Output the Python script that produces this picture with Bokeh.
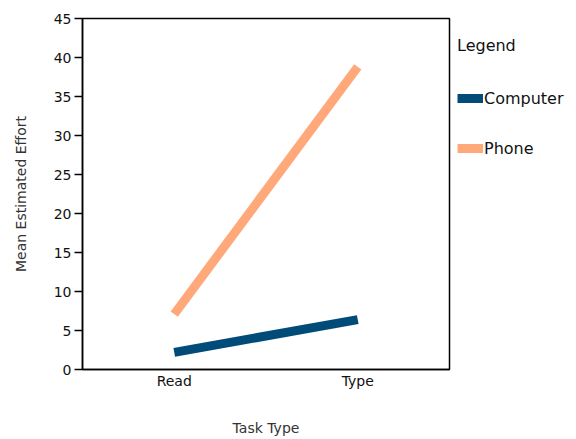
from bokeh.plotting import figure
from bokeh.models import Legend, LegendItem, FactorRange, FixedTicker
from bokeh.embed import file_html
from bokeh.resources import INLINE

tasks = ["Read", "Type"]
computer = [2.2, 6.4]
phone = [7.1, 38.8]
y_ticks = [0, 5, 10, 15, 20, 25, 30, 35, 40, 45]
series_names = ["Computer", "Phone"]
colors = ["#004B78", "#FFA87A"]
FONT = "DejaVu Sans"

p = figure(
    x_range=FactorRange(factors=tasks, range_padding=0),
    y_range=(0, 45),
    frame_width=367, frame_height=351,
    output_backend="svg", toolbar_location=None,
    min_border_left=82, min_border_right=127, min_border_top=18, min_border_bottom=66,
)
p.xgrid.visible = False
p.ygrid.visible = False
p.outline_line_color = "black"
p.outline_line_width = 1.5

r1 = p.line(x=tasks, y=computer, line_width=9, line_color=colors[0], line_cap="butt")
r2 = p.line(x=tasks, y=phone, line_width=9, line_color=colors[1], line_cap="butt")

for ax in (p.xaxis[0], p.yaxis[0]):
    ax.axis_line_color = "black"
    ax.axis_line_width = 1.5
    ax.major_label_text_font = FONT
    ax.major_label_text_font_size = "14px"
    ax.major_label_text_color = "#111111"
    ax.axis_label_text_font = FONT
    ax.axis_label_text_font_size = "14px"
    ax.axis_label_text_font_style = "normal"
    ax.axis_label_text_color = "#333333"
    ax.minor_tick_line_color = None

p.xaxis.axis_label = "Task Type"
p.xaxis.major_tick_line_color = None
p.xaxis.major_tick_in = 0
p.xaxis.major_tick_out = 0
p.xaxis.major_label_standoff = 3
p.xaxis.axis_label_standoff = 28

p.yaxis.axis_label = "Mean Estimated Effort"
p.yaxis.ticker = FixedTicker(ticks=y_ticks)
p.yaxis.major_tick_in = 0
p.yaxis.major_tick_out = 8
p.yaxis.major_tick_line_color = "black"
p.yaxis.major_tick_line_width = 1.5
p.yaxis.major_label_standoff = 3
p.yaxis.axis_label_standoff = 22

legend = Legend(
    items=[LegendItem(label=series_names[0], renderers=[r1]),
           LegendItem(label=series_names[1], renderers=[r2])],
    location=(8, 211),
    title="Legend",
    title_text_font=FONT, title_text_font_size="16px", title_text_font_style="normal",
    title_text_color="#111111",
    label_text_font=FONT, label_text_font_size="16px", label_text_color="#111111",
    glyph_width=26, glyph_height=20, label_height=20, label_standoff=1,
    spacing=30, title_standoff=33, padding=4, margin=0,
    border_line_color=None, background_fill_alpha=0,
)
p.add_layout(legend, "right")

open("out.html", "w").write(file_html(p, INLINE))
